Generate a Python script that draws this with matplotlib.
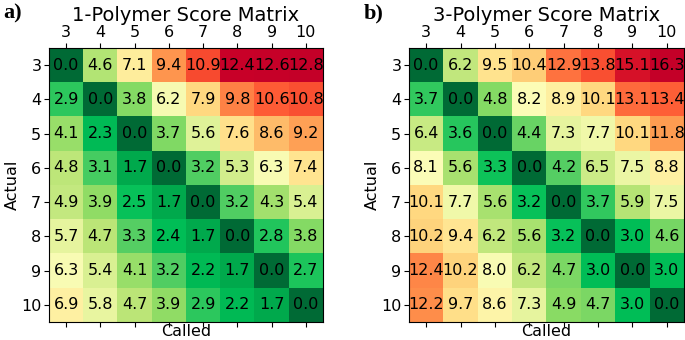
import numpy as np
import matplotlib.pyplot as plt
from matplotlib.colors import LinearSegmentedColormap

lengths = [3, 4, 5, 6, 7, 8, 9, 10]

score_1poly = [
    [0.0, 4.6, 7.1, 9.4, 10.9, 12.4, 12.6, 12.8],
    [2.9, 0.0, 3.8, 6.2, 7.9, 9.8, 10.6, 10.8],
    [4.1, 2.3, 0.0, 3.7, 5.6, 7.6, 8.6, 9.2],
    [4.8, 3.1, 1.7, 0.0, 3.2, 5.3, 6.3, 7.4],
    [4.9, 3.9, 2.5, 1.7, 0.0, 3.2, 4.3, 5.4],
    [5.7, 4.7, 3.3, 2.4, 1.7, 0.0, 2.8, 3.8],
    [6.3, 5.4, 4.1, 3.2, 2.2, 1.7, 0.0, 2.7],
    [6.9, 5.8, 4.7, 3.9, 2.9, 2.2, 1.7, 0.0],
]

score_3poly = [
    [0.0, 6.2, 9.5, 10.4, 12.9, 13.8, 15.1, 16.3],
    [3.7, 0.0, 4.8, 8.2, 8.9, 10.1, 13.1, 13.4],
    [6.4, 3.6, 0.0, 4.4, 7.3, 7.7, 10.1, 11.8],
    [8.1, 5.6, 3.3, 0.0, 4.2, 6.5, 7.5, 8.8],
    [10.1, 7.7, 5.6, 3.2, 0.0, 3.7, 5.9, 7.5],
    [10.2, 9.4, 6.2, 5.6, 3.2, 0.0, 3.0, 4.6],
    [12.4, 10.2, 8.0, 6.2, 4.7, 3.0, 0.0, 3.0],
    [12.2, 9.7, 8.6, 7.3, 4.9, 4.7, 3.0, 0.0],
]

# green -> yellow -> red, a bit brighter than the stock RdYlGn_r
cmap = LinearSegmentedColormap.from_list('score', [
    (0.00, '#006a35'), (0.13, '#00a84c'), (0.19, '#00c058'),
    (0.26, '#5cd064'), (0.30, '#8cdc64'), (0.37, '#bce678'),
    (0.45, '#e8f5a0'), (0.50, '#fcfdb8'), (0.56, '#ffeb99'),
    (0.62, '#ffd880'), (0.73, '#fe9a50'), (0.83, '#ff5a35'),
    (0.88, '#f03a2a'), (0.95, '#cc0028'), (1.00, '#c40028'),
])


def draw_matrix(ax, data, title):
    m = np.array(data)
    ax.imshow(m, cmap=cmap, vmin=0, vmax=m.max(), aspect='auto')
    for i in range(m.shape[0]):
        for j in range(m.shape[1]):
            ax.text(j, i, f'{m[i, j]:.1f}', ha='center', va='center',
                    fontsize=11.5, color='black')
    ax.set_xticks(range(len(lengths)))
    ax.set_yticks(range(len(lengths)))
    ax.set_xticklabels([str(v) for v in lengths], fontsize=11.5)
    ax.set_yticklabels([str(v) for v in lengths], fontsize=11.5)
    ax.tick_params(axis='x', top=True, labeltop=True, bottom=True,
                   labelbottom=False, pad=2)
    ax.tick_params(axis='y', pad=2)
    ax.set_xlabel('Called', fontsize=11.5, labelpad=-2)
    ax.set_ylabel('Actual', fontsize=11.5, labelpad=1)
    ax.set_title(title, fontsize=14, pad=2)


fig = plt.figure(figsize=(6.85, 3.4), dpi=100)
ax1 = fig.add_axes([49 / 685, 1 - 322 / 340, 274 / 685, 274 / 340])
ax2 = fig.add_axes([409 / 685, 1 - 322 / 340, 275 / 685, 274 / 340])

draw_matrix(ax1, score_1poly, '1-Polymer Score Matrix')
draw_matrix(ax2, score_3poly, '3-Polymer Score Matrix')

fig.text(3 / 685, 1 - 13 / 340, 'a)', fontsize=16, fontweight='bold',
         family='Liberation Serif', va='center')
fig.text(364 / 685, 1 - 13 / 340, 'b)', fontsize=16, fontweight='bold',
         family='Liberation Serif', va='center')

fig.savefig('out.png', dpi=100)
